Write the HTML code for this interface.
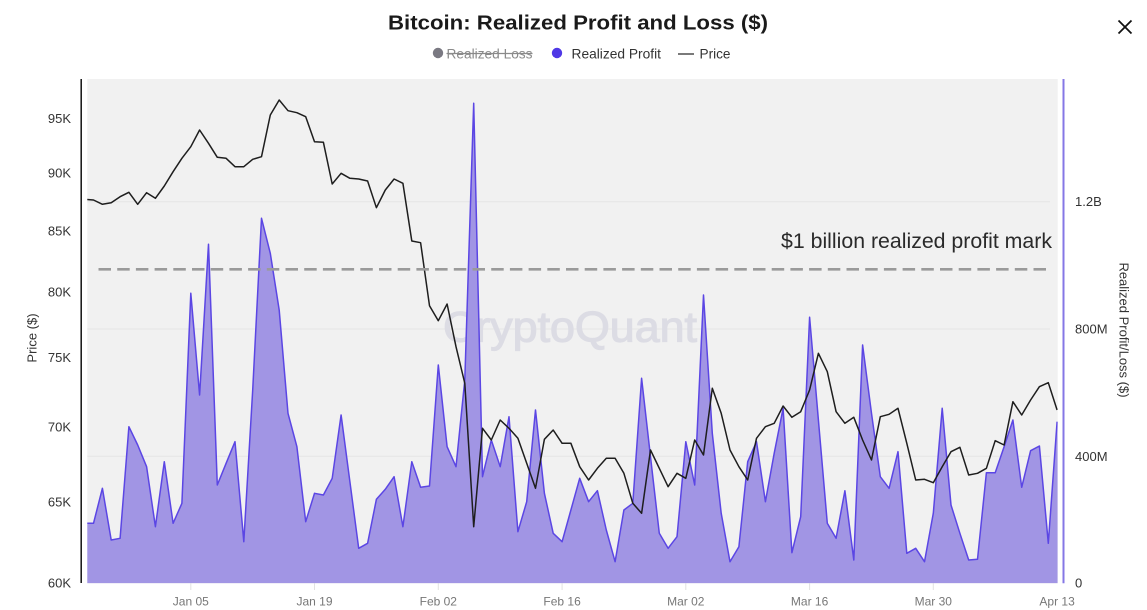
<!DOCTYPE html>
<html>
<head>
<meta charset="utf-8">
<style>
  html,body{margin:0;padding:0;background:#fff;}
  body{width:1147px;height:610px;overflow:hidden;}
  svg{display:block;}
  text{font-family:"Liberation Sans", sans-serif;}
</style>
</head>
<body>
<svg width="1147" height="610" viewBox="0 0 1147 610" xmlns="http://www.w3.org/2000/svg">
  <defs>
    <clipPath id="plot">
      <rect x="87.3" y="79" width="970.4" height="504.3"/>
    </clipPath>
  </defs>

  <!-- Title -->
  <text x="388" y="29.5" font-size="20" font-weight="bold" fill="#1a1a1a" textLength="380" lengthAdjust="spacingAndGlyphs">Bitcoin: Realized Profit and Loss ($)</text>

  <!-- Legend -->
  <circle cx="438" cy="53" r="5.2" fill="#7a7982"/>
  <text x="446.5" y="58.5" font-size="14" fill="#8a8a8a" textLength="86" lengthAdjust="spacingAndGlyphs">Realized Loss</text>
  <line x1="446.5" y1="53.5" x2="532.5" y2="53.5" stroke="#8a8a8a" stroke-width="1.2"/>
  <circle cx="557" cy="53" r="5.2" fill="#4f38e6"/>
  <text x="571.5" y="58.5" font-size="14" fill="#333" textLength="89.5" lengthAdjust="spacingAndGlyphs">Realized Profit</text>
  <line x1="678" y1="54" x2="694" y2="54" stroke="#333" stroke-width="1.3"/>
  <text x="699.5" y="58.5" font-size="14" fill="#333" textLength="31" lengthAdjust="spacingAndGlyphs">Price</text>

  <!-- Close X -->
  <line x1="1118.5" y1="20.5" x2="1131.5" y2="33.5" stroke="#111" stroke-width="1.8"/>
  <line x1="1131.5" y1="20.5" x2="1118.5" y2="33.5" stroke="#111" stroke-width="1.8"/>

  <!-- Plot background -->
  <rect x="87.3" y="79" width="970.4" height="504.3" fill="#f1f1f1"/>

  <!-- Grid lines -->
  <g stroke="#e5e5e5" stroke-width="1">
    <line x1="87.3" y1="456.3" x2="1050" y2="456.3"/>
    <line x1="87.3" y1="329" x2="1050" y2="329"/>
    <line x1="87.3" y1="201.7" x2="1050" y2="201.7"/>
  </g>
  <g stroke="#e2e2e2" stroke-width="1">
    <line x1="190.8" y1="583.3" x2="190.8" y2="590"/>
    <line x1="314.5" y1="583.3" x2="314.5" y2="590"/>
    <line x1="438.3" y1="583.3" x2="438.3" y2="590"/>
    <line x1="562.1" y1="583.3" x2="562.1" y2="590"/>
    <line x1="685.8" y1="583.3" x2="685.8" y2="590"/>
    <line x1="809.6" y1="583.3" x2="809.6" y2="590"/>
    <line x1="933.3" y1="583.3" x2="933.3" y2="590"/>
  </g>

  <!-- Watermark -->
  <text x="443" y="341.5" font-size="43" fill="#dcdce4" stroke="#dcdce4" stroke-width="1.2" textLength="254" lengthAdjust="spacingAndGlyphs">CryptoQuant</text>

  <!-- Realized profit area -->
  <g clip-path="url(#plot)">
    <polygon fill="#a195e4" points="84.7,583.3 84.7,523.3 93.5,523.3 102.4,488.3 111.2,540 120.1,538.3 128.9,426.7 137.7,445 146.6,466.7 155.4,526.7 164.3,461.7 173.1,523.3 181.9,503.3 190.8,293.3 199.6,395 208.5,244.3 217.3,485 226.1,463.3 235,441.7 243.8,541.7 252.7,390 261.5,218.3 270.3,253.3 279.2,310 288,413.3 296.9,446.7 305.7,521.7 314.5,493.3 323.4,495 332.2,478.3 341.1,415 349.9,481.7 358.7,548.3 367.6,543.3 376.4,499.3 385.3,489.3 394.1,476.7 402.9,526.7 411.8,461.7 420.6,487.3 429.5,486 438.3,365 447.1,446.7 456,466.7 464.8,380 473.7,103.3 482.5,476.7 491.3,440 500.2,466.7 509,416.7 517.9,531.7 526.7,501.7 535.5,410 544.4,493.3 553.2,533.3 562.1,541.7 570.9,510 579.7,478.3 588.6,501.7 597.4,490.7 606.3,530 615.1,561.7 623.9,510 632.8,503.3 641.6,378.3 650.5,456.7 659.3,533.3 668.1,548.3 677,536.7 685.8,441.7 694.7,485 703.5,295 712.3,433.3 721.2,513.3 730,561.7 738.9,546.7 747.7,461.7 756.5,441.7 765.4,501.7 774.2,453.3 783.1,408.3 791.9,552.7 800.7,516.7 809.6,317.3 818.4,420 827.3,523.3 836.1,538.3 844.9,490.7 853.8,560 862.6,345 871.5,413.3 880.3,476.7 889.1,488.3 898,451.7 906.8,553.3 915.7,548.3 924.5,561.7 933.3,513.3 942.2,408.3 951,505 959.9,533.3 968.7,560 977.5,559.3 986.4,472.7 995.2,472.7 1004.1,446.7 1012.9,420 1021.7,487.3 1030.6,450.7 1039.4,446 1048.3,543.3 1057.1,421.7 1057.7,421.7 1057.7,583.3"/>
    <polyline fill="none" stroke="#5b46e4" stroke-width="1.5" stroke-linejoin="round" points="84.7,523.3 93.5,523.3 102.4,488.3 111.2,540 120.1,538.3 128.9,426.7 137.7,445 146.6,466.7 155.4,526.7 164.3,461.7 173.1,523.3 181.9,503.3 190.8,293.3 199.6,395 208.5,244.3 217.3,485 226.1,463.3 235,441.7 243.8,541.7 252.7,390 261.5,218.3 270.3,253.3 279.2,310 288,413.3 296.9,446.7 305.7,521.7 314.5,493.3 323.4,495 332.2,478.3 341.1,415 349.9,481.7 358.7,548.3 367.6,543.3 376.4,499.3 385.3,489.3 394.1,476.7 402.9,526.7 411.8,461.7 420.6,487.3 429.5,486 438.3,365 447.1,446.7 456,466.7 464.8,380 473.7,103.3 482.5,476.7 491.3,440 500.2,466.7 509,416.7 517.9,531.7 526.7,501.7 535.5,410 544.4,493.3 553.2,533.3 562.1,541.7 570.9,510 579.7,478.3 588.6,501.7 597.4,490.7 606.3,530 615.1,561.7 623.9,510 632.8,503.3 641.6,378.3 650.5,456.7 659.3,533.3 668.1,548.3 677,536.7 685.8,441.7 694.7,485 703.5,295 712.3,433.3 721.2,513.3 730,561.7 738.9,546.7 747.7,461.7 756.5,441.7 765.4,501.7 774.2,453.3 783.1,408.3 791.9,552.7 800.7,516.7 809.6,317.3 818.4,420 827.3,523.3 836.1,538.3 844.9,490.7 853.8,560 862.6,345 871.5,413.3 880.3,476.7 889.1,488.3 898,451.7 906.8,553.3 915.7,548.3 924.5,561.7 933.3,513.3 942.2,408.3 951,505 959.9,533.3 968.7,560 977.5,559.3 986.4,472.7 995.2,472.7 1004.1,446.7 1012.9,420 1021.7,487.3 1030.6,450.7 1039.4,446 1048.3,543.3 1057.1,421.7"/>

    <!-- Price line -->
    <polyline fill="none" stroke="#1e1e1e" stroke-width="1.5" stroke-linejoin="round" points="84.7,199.3 93.5,200 102.4,204.3 111.2,202.7 120.1,196.7 128.9,192.3 137.7,204.3 146.6,192.7 155.4,198.3 164.3,186 173.1,171.7 181.9,158.3 190.8,146.7 199.6,130 208.5,143.3 217.3,157.3 226.1,158.3 235,166.7 243.8,166.7 252.7,159.3 261.5,156.7 270.3,115 279.2,100 288,110.7 296.9,112.7 305.7,116.7 314.5,141.7 323.4,142.3 332.2,184 341.1,173.3 349.9,178.3 358.7,179 367.6,181 376.4,207.7 385.3,190 394.1,179 402.9,183.3 411.8,241 420.6,242.7 429.5,305.7 438.3,320.7 447.1,304 456,346.7 464.8,383.3 473.7,526.7 482.5,428.3 491.3,440 500.2,420 509,428.3 517.9,438.3 526.7,463.3 535.5,488.3 544.4,439.3 553.2,430 562.1,443.3 570.9,443.3 579.7,466.7 588.6,480 597.4,468.3 606.3,458.3 615.1,458.3 623.9,473.3 632.8,503.3 641.6,513.3 650.5,450 659.3,468.3 668.1,486.7 677,473.3 685.8,478.3 694.7,440 703.5,455 712.3,388.3 721.2,413.3 730,450 738.9,466.7 747.7,480 756.5,438.3 765.4,426.7 774.2,423.3 783.1,406 791.9,417.3 800.7,411.7 809.6,390 818.4,353.3 827.3,371.7 836.1,411.7 844.9,423.3 853.8,417.3 862.6,440 871.5,460 880.3,416.7 889.1,414.3 898,408.3 906.8,443.3 915.7,480 924.5,479.3 933.3,482.7 942.2,466.7 951,451.7 959.9,447.3 968.7,475 977.5,473.3 986.4,468.3 995.2,440.7 1004.1,445 1012.9,401.7 1021.7,415 1030.6,400 1039.4,386.7 1048.3,382.7 1057.1,410"/>
  </g>

  <!-- $1B dashed line and annotation -->
  <line x1="98.5" y1="269.3" x2="1050" y2="269.3" stroke="#9a9a9a" stroke-width="2.6" stroke-dasharray="12.5,6.2"/>
  <text x="781" y="248" font-size="21" fill="#2a2a2a" textLength="271" lengthAdjust="spacingAndGlyphs">$1 billion realized profit mark</text>

  <!-- Axes lines -->
  <line x1="81.2" y1="79" x2="81.2" y2="583" stroke="#111" stroke-width="1.5"/>
  <line x1="1063.5" y1="79" x2="1063.5" y2="583.3" stroke="#8577e6" stroke-width="2"/>

  <!-- Left axis labels -->
  <g font-size="13" fill="#333" text-anchor="end">
    <text x="71" y="122.9">95K</text>
    <text x="71" y="177.5">90K</text>
    <text x="71" y="235.5">85K</text>
    <text x="71" y="296.5">80K</text>
    <text x="71" y="361.9">75K</text>
    <text x="71" y="431.5">70K</text>
    <text x="71" y="506.5">65K</text>
    <text x="71" y="587.5">60K</text>
  </g>
  <text transform="translate(36.5,338) rotate(-90)" font-size="13" fill="#333" text-anchor="middle">Price ($)</text>

  <!-- Right axis labels -->
  <g font-size="13" fill="#333" text-anchor="start">
    <text x="1075" y="206.2">1.2B</text>
    <text x="1075" y="333.5">800M</text>
    <text x="1075" y="460.8">400M</text>
    <text x="1075" y="587.5">0</text>
  </g>
  <text transform="translate(1119.5,330) rotate(90)" font-size="13" fill="#333" text-anchor="middle">Realized Profit/Loss ($)</text>

  <!-- X axis labels -->
  <g font-size="12" fill="#777" text-anchor="middle">
    <text x="190.8" y="605.3">Jan 05</text>
    <text x="314.5" y="605.3">Jan 19</text>
    <text x="438.3" y="605.3">Feb 02</text>
    <text x="562.1" y="605.3">Feb 16</text>
    <text x="685.8" y="605.3">Mar 02</text>
    <text x="809.6" y="605.3">Mar 16</text>
    <text x="933.3" y="605.3">Mar 30</text>
    <text x="1057.1" y="605.3">Apr 13</text>
  </g>
</svg>
</body>
</html>
